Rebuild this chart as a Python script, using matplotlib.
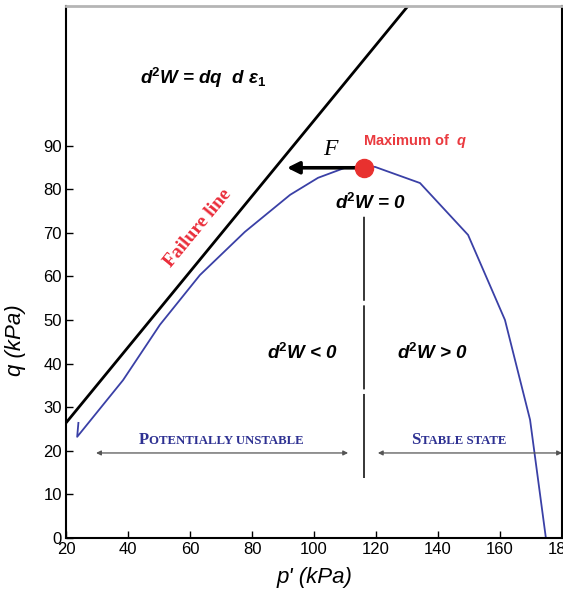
import matplotlib
matplotlib.use("Agg")
import matplotlib.pyplot as plt

# stress path (p', q in kPa)
p_curve = [24.0, 23.6, 38.4, 50.3, 63.2, 77.7, 92.3, 101.3, 110.0, 116.1, 119.7, 134.2, 149.7, 161.6, 169.7, 174.8]
q_curve = [26.4, 23.2, 36.2, 48.9, 60.3, 70.2, 78.7, 82.6, 84.9, 85.3, 85.1, 81.4, 69.5, 50.0, 27.1, 0.0]

# failure line end points
fail_p = [20.0, 140.0]
fail_q = [26.4, 130.4]

# maximum of q and the F arrow
max_p, max_q = 116.1, 84.9
f_tip_p = 91.3

x_ticks = [20, 40, 60, 80, 100, 120, 140, 160, 180]
y_ticks = [0, 10, 20, 30, 40, 50, 60, 70, 80, 90]

plt.rcParams['font.family'] = ['Liberation Sans', 'DejaVu Sans']
plt.rcParams['mathtext.fontset'] = 'custom'
plt.rcParams['mathtext.it'] = 'Liberation Sans:italic:bold'
plt.rcParams['mathtext.rm'] = 'Liberation Sans:bold'
plt.rcParams['mathtext.bf'] = 'Liberation Sans:bold'

DPI = 100
fig = plt.figure(figsize=(5.63, 5.98), dpi=DPI)
ax = fig.add_axes([66 / 563, 60 / 598, 496 / 563, 532 / 598])

ax.plot(fail_p, fail_q, color='black', lw=2.0, solid_capstyle='butt')
ax.plot(p_curve, q_curve, color='#3a40a6', lw=1.3)
ax.plot([max_p, max_p], [13.8, 74.1], color='black', lw=1.1, linestyle=(0, (55, 3)))

ax.annotate('', xy=(f_tip_p, max_q), xytext=(max_p, max_q),
            arrowprops=dict(arrowstyle='-|>', color='black', lw=2.6, mutation_scale=18,
                            shrinkA=0, shrinkB=0))
ax.plot([max_p], [max_q], 'o', color='#e8312f', markersize=13, zorder=5)

ax.text(105.2, 89.0, 'F', fontfamily='Liberation Serif', style='italic', fontsize=17,
        ha='center', va='center')
ax.text(115.8, 91.0, 'Maximum of  $q$', color='#ea3a3f', fontweight='bold', fontsize=10.5,
        ha='left', va='center')

eq = dict(fontsize=13.5, style='italic', fontweight='bold', va='center')
ax.text(43.9, 105.5, r'd$^2$W = dq  d $\varepsilon_1$', ha='left', **eq)
ax.text(106.8, 76.8, r'd$^2$W = 0', ha='left', **eq)
ax.text(96.1, 42.4, r'd$^2$W < 0', ha='center', **eq)
ax.text(138.1, 42.4, r'd$^2$W > 0', ha='center', **eq)

ax.text(62.6, 71.1, 'Failure line', color='#ea2d3a', fontfamily='Liberation Serif',
        fontweight='bold', fontsize=14, rotation=50.6, rotation_mode='anchor',
        ha='center', va='center')

# double arrows for the two zones
for a, b in [(29.7, 111.0), (120.6, 180.0)]:
    ax.annotate('', xy=(a, 19.5), xytext=(b, 19.5),
                arrowprops=dict(arrowstyle='<|-|>', color='#555555', lw=0.9,
                                mutation_scale=7, shrinkA=0, shrinkB=0),
                annotation_clip=False)

fig.canvas.draw()
rend = fig.canvas.get_renderer()


def small_caps(x, y, pieces, color):
    widths = []
    for s, fs in pieces:
        t = ax.text(0, 0, s, fontsize=fs, fontfamily='Liberation Serif', fontweight='bold')
        widths.append(t.get_window_extent(rend).width)
        t.remove()
    off = -sum(widths) / 2
    for (s, fs), w in zip(pieces, widths):
        ax.annotate(s, xy=(x, y), xytext=(off * 72 / DPI, 0), textcoords='offset points',
                    fontsize=fs, fontfamily='Liberation Serif', fontweight='bold',
                    color=color, ha='left', va='baseline')
        off += w + 0.5


small_caps(70.0, 21.6, [('P', 12), ('OTENTIALLY UNSTABLE', 9.2)], '#2e3192')
small_caps(146.5, 21.6, [('S', 12), ('TABLE STATE', 9.2)], '#2e3192')

ax.set_xlim(20, 180)
ax.set_ylim(0, 122)
ax.set_xticks(x_ticks)
ax.set_yticks(y_ticks)
ax.tick_params(direction='in', length=5, width=1, labelsize=12, pad=3)

ax.set_xlabel("p' (kPa)", fontsize=16, style='italic', labelpad=7)
ax.set_ylabel('q (kPa)', fontsize=16, style='italic')
ax.yaxis.set_label_coords(-0.08, 0.372)

for side in ['left', 'bottom', 'right']:
    ax.spines[side].set_linewidth(1.5)
    ax.spines[side].set_color('black')
ax.spines['top'].set_linewidth(2)
ax.spines['top'].set_color('#b5b5b5')

fig.savefig('out.png', dpi=DPI)
